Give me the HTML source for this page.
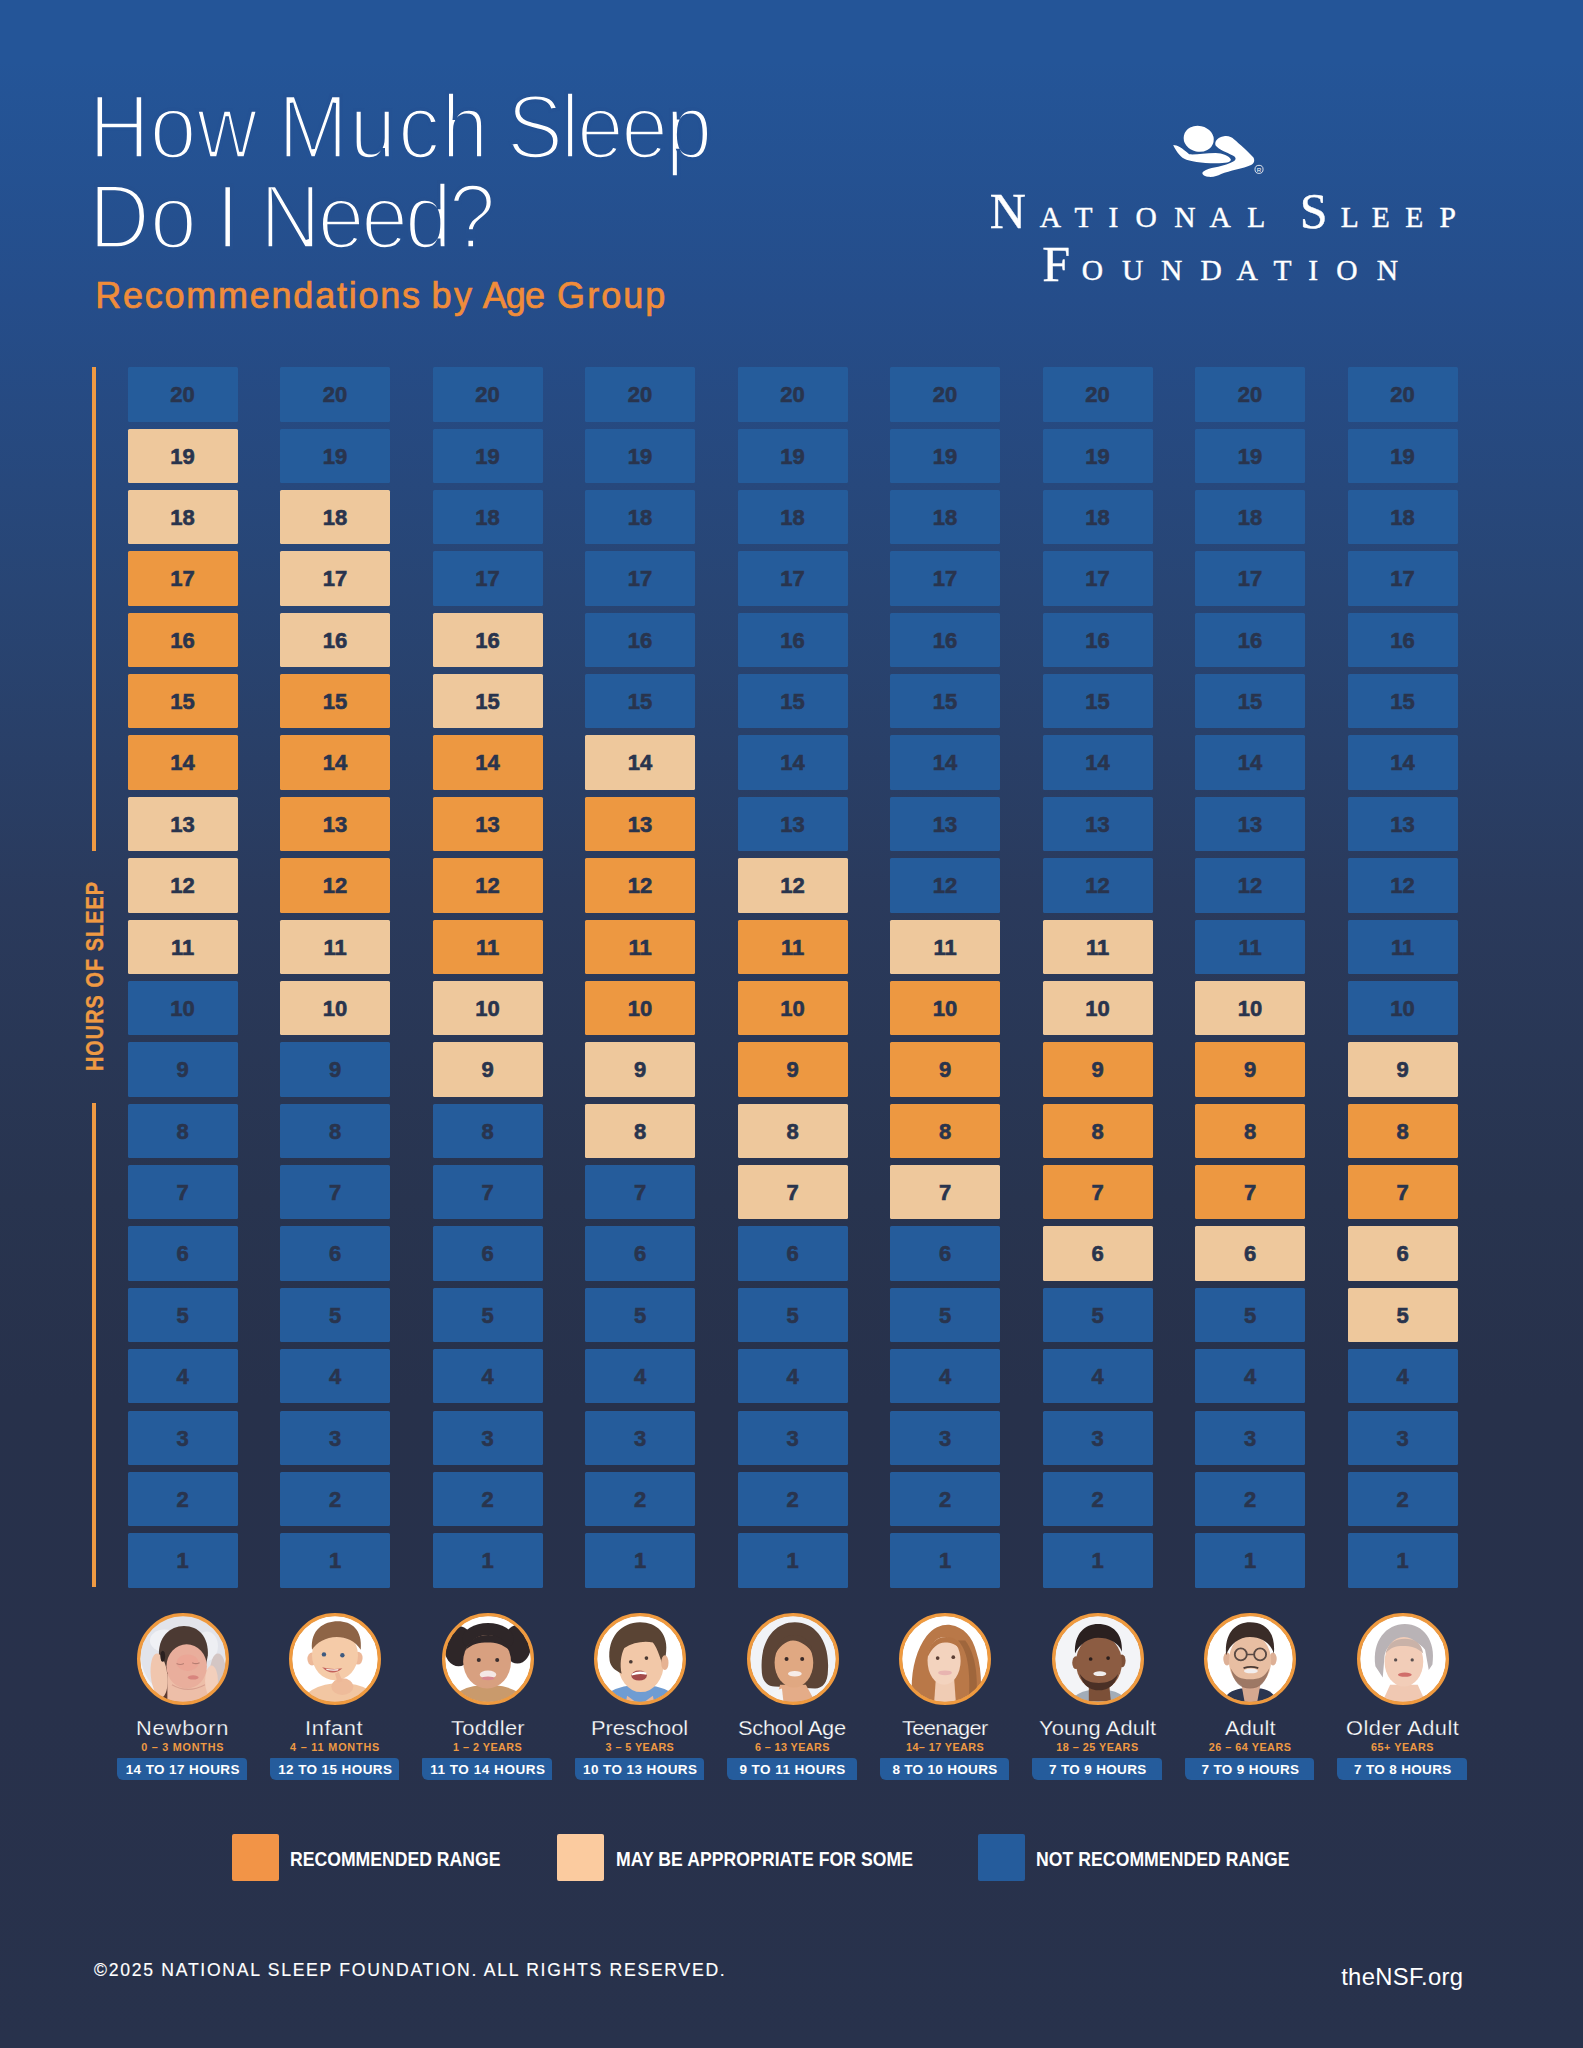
<!DOCTYPE html><html><head><meta charset="utf-8"><title>How Much Sleep Do I Need?</title><style>
html,body{margin:0;padding:0;}
body{width:1583px;height:2048px;overflow:hidden;background:#28324C;}
#page{position:relative;width:1583px;height:2048px;overflow:hidden;
 background:linear-gradient(to bottom,#245598 0px,#245598 60px,#254D8A 300px,#284574 590px,#2A3A5C 900px,#28344F 1200px,#27314B 1400px,#28314B 1700px,#28324C 2048px);
 font-family:"Liberation Sans",sans-serif;}
.tw{position:absolute;color:#fff;font-size:90.4px;line-height:90.4px;white-space:nowrap;transform:scaleX(0.93);transform-origin:0 0;}
.sub{position:absolute;color:#F08C3A;font-size:36px;line-height:36px;white-space:nowrap;-webkit-text-stroke:0.7px #F08C3A;}
.lg1{position:absolute;color:#fff;font-family:"Liberation Serif",serif;white-space:nowrap;text-align:center;width:60px;-webkit-text-stroke:0.4px #fff;}
.big{font-size:50px;line-height:50px;}
.sm{font-size:29.5px;line-height:29.5px;}
.axis{position:absolute;left:92.2px;width:3.7px;background:#EF9A43;}
.a1{top:366.8px;height:484px;}
.a2{top:1103px;height:484.3px;}
.axlabel{position:absolute;height:24px;color:#EF9A43;font-weight:bold;font-size:23px;line-height:24px;text-align:center;white-space:nowrap;-webkit-text-stroke:0.4px #EF9A43;transform:rotate(-90deg) scaleX(0.86);transform-origin:50% 50%;}
.c{position:absolute;width:110.1px;height:54.4px;border-radius:1.5px;text-align:center;line-height:56.2px;font-weight:bold;font-size:22px;color:#29344D;-webkit-text-stroke:0.6px #29344D;}
.b{background:#255C9B;}
.p{background:#EEC89C;}
.o{background:#ED9841;}
.ph{position:absolute;top:1613.3px;width:92px;height:92px;}
.ph svg{display:block;}
.nm{position:absolute;color:#fff;font-size:19.5px;line-height:20px;white-space:nowrap;transform:scaleX(1.12);transform-origin:0 0;-webkit-text-stroke:0.25px #28334E;}
.ag{position:absolute;color:#EF9A43;font-size:10.8px;font-weight:bold;line-height:12px;white-space:nowrap;}
.pill{position:absolute;top:1758.2px;width:129.5px;height:21.9px;background:#255C9C;border-radius:1px 4px 0 6px;}
.pt{position:absolute;color:#fff;font-weight:bold;font-size:13.5px;line-height:14px;white-space:nowrap;}
.lg{position:absolute;top:1834px;width:47.4px;height:47.2px;border-radius:2px;}
.lt{position:absolute;color:#fff;font-weight:bold;font-size:20px;line-height:20px;white-space:nowrap;transform:scaleX(0.88);transform-origin:0 0;}
.ft{position:absolute;color:#fff;font-size:17.6px;line-height:20px;white-space:nowrap;-webkit-text-stroke:0.15px #fff;}
.url{position:absolute;color:#fff;font-size:23.8px;line-height:24px;white-space:nowrap;}

</style></head><body><div id="page">
<div class="tw" style="left:88.6px;top:82px;letter-spacing:0.16px;-webkit-text-stroke:3.6px #245294">How</div>
<div class="tw" style="left:278.0px;top:82px;letter-spacing:1.72px;-webkit-text-stroke:3.6px #245294">Much</div>
<div class="tw" style="left:507.4px;top:82px;letter-spacing:-2.61px;-webkit-text-stroke:3.6px #245294">Sleep</div>
<div class="tw" style="left:88.6px;top:172px;letter-spacing:0.32px;-webkit-text-stroke:3.6px #25508F">Do</div>
<div class="tw" style="left:215.6px;top:172px;letter-spacing:0px;-webkit-text-stroke:3.6px #25508F">I</div>
<div class="tw" style="left:260.2px;top:172px;letter-spacing:-3.28px;-webkit-text-stroke:3.6px #25508F">Need?</div>
<svg style="position:absolute;left:1160px;top:115px" width="110" height="70" viewBox="0 0 1583 1007"><g fill="#fff">
<ellipse cx="557" cy="342" rx="218" ry="186" transform="rotate(12 557 342)"/>
<path d="M190,430 C250,430 320,470 420,565 C520,575 640,545 800,545 C900,545 1000,590 1020,640 C1020,680 950,695 800,695 C600,695 420,665 350,630 C280,590 220,500 190,430 Z"/>
<path d="M800,440 C780,380 830,320 920,305 C990,295 1030,320 1060,345 C1150,420 1280,540 1345,610 C1370,660 1350,700 1310,720 C1200,770 1000,800 880,850 C820,880 780,895 690,890 C630,880 590,840 620,815 C660,785 720,760 800,750 C900,730 1020,700 1080,650 C1100,620 1080,600 1040,580 C960,540 850,500 800,440 Z"/>
</g><circle cx="1425" cy="782" r="58" fill="none" stroke="#fff" stroke-width="12"/><text x="1425" y="815" font-size="90" text-anchor="middle" fill="#fff" font-family="Liberation Sans">R</text></svg>
<div class="lg1 big" style="left:977.9px;top:185.7px">N</div>
<div class="lg1 sm" style="left:1020.3px;top:202.9px">A</div>
<div class="lg1 sm" style="left:1053.5px;top:202.9px">T</div>
<div class="lg1 sm" style="left:1083.5px;top:202.9px">I</div>
<div class="lg1 sm" style="left:1116.1px;top:202.9px">O</div>
<div class="lg1 sm" style="left:1154.8px;top:202.9px">N</div>
<div class="lg1 sm" style="left:1190.2px;top:202.9px">A</div>
<div class="lg1 sm" style="left:1226.3px;top:202.9px">L</div>
<div class="lg1 big" style="left:1283.7px;top:185.7px">S</div>
<div class="lg1 sm" style="left:1319.8px;top:202.9px">L</div>
<div class="lg1 sm" style="left:1350.8px;top:202.9px">E</div>
<div class="lg1 sm" style="left:1384.2px;top:202.9px">E</div>
<div class="lg1 sm" style="left:1417.6px;top:202.9px">P</div>
<div class="lg1 big" style="left:1026.2px;top:238.9px">F</div>
<div class="lg1 sm" style="left:1062.4px;top:256.1px">O</div>
<div class="lg1 sm" style="left:1102.6px;top:256.1px">U</div>
<div class="lg1 sm" style="left:1141.6px;top:256.1px">N</div>
<div class="lg1 sm" style="left:1181.2px;top:256.1px">D</div>
<div class="lg1 sm" style="left:1217.2px;top:256.1px">A</div>
<div class="lg1 sm" style="left:1252.6px;top:256.1px">T</div>
<div class="lg1 sm" style="left:1283.2px;top:256.1px">I</div>
<div class="lg1 sm" style="left:1316.8px;top:256.1px">O</div>
<div class="lg1 sm" style="left:1357.3px;top:256.1px">N</div>
<div class="sub" style="left:95.3px;top:278.3px;letter-spacing:1.75px">Recommendations</div>
<div class="sub" style="left:431.6px;top:278.3px;letter-spacing:2.3px">by</div>
<div class="sub" style="left:482.7px;top:278.3px;letter-spacing:-0.9px">Age</div>
<div class="sub" style="left:557.1px;top:278.3px;letter-spacing:2.05px">Group</div>
<div class="axis a1"></div><div class="axis a2"></div>
<div class="axlabel" style="left:-54.9px;top:964.4px;width:300px;letter-spacing:1.27px">HOURS OF SLEEP</div>
<div class="c b" style="left:127.5px;top:367.2px">20</div>
<div class="c p" style="left:127.5px;top:428.6px">19</div>
<div class="c p" style="left:127.5px;top:489.9px">18</div>
<div class="c o" style="left:127.5px;top:551.3px">17</div>
<div class="c o" style="left:127.5px;top:612.7px">16</div>
<div class="c o" style="left:127.5px;top:674.0px">15</div>
<div class="c o" style="left:127.5px;top:735.4px">14</div>
<div class="c p" style="left:127.5px;top:796.8px">13</div>
<div class="c p" style="left:127.5px;top:858.2px">12</div>
<div class="c p" style="left:127.5px;top:919.5px">11</div>
<div class="c b" style="left:127.5px;top:980.9px">10</div>
<div class="c b" style="left:127.5px;top:1042.3px">9</div>
<div class="c b" style="left:127.5px;top:1103.6px">8</div>
<div class="c b" style="left:127.5px;top:1165.0px">7</div>
<div class="c b" style="left:127.5px;top:1226.4px">6</div>
<div class="c b" style="left:127.5px;top:1287.8px">5</div>
<div class="c b" style="left:127.5px;top:1349.1px">4</div>
<div class="c b" style="left:127.5px;top:1410.5px">3</div>
<div class="c b" style="left:127.5px;top:1471.9px">2</div>
<div class="c b" style="left:127.5px;top:1533.2px">1</div>
<div class="ph" style="left:136.6px"><svg width="92" height="92" viewBox="0 0 100 100"><defs><clipPath id="cp0"><circle cx="50" cy="50" r="47"/></clipPath></defs><g clip-path="url(#cp0)"><rect width="100" height="100" fill="#F2F3F6"/>
<ellipse cx="50" cy="46" rx="46" ry="46" fill="#E2E4EB"/>
<ellipse cx="30" cy="30" rx="16" ry="12" fill="#F0F1F5"/>
<ellipse cx="76" cy="36" rx="12" ry="16" fill="#EEEFF3"/>
<ellipse cx="88" cy="66" rx="9" ry="22" fill="#D4C6C4"/>
<path d="M24,48 C22,26 36,14 51,14 C67,14 78,26 77,46 L74,62 L30,64 Z" fill="#4C3A33"/>
<path d="M27,60 L35,58 L36,100 L28,100 Z" fill="#5C3A30"/>
<path d="M33,100 L33,66 L78,62 L80,100 Z" fill="#EDBEA8"/>
<ellipse cx="54" cy="58" rx="22" ry="24" fill="#E9AE9C"/>
<ellipse cx="55" cy="54" rx="12" ry="9" fill="#EBA394" opacity="0.7"/>
<path d="M38,78 Q55,88 74,78" stroke="#D8A090" stroke-width="1.2" fill="none"/>
<ellipse cx="24" cy="68" rx="9" ry="24" fill="#F0C6AE" transform="rotate(-6 24 68)"/>
<ellipse cx="28" cy="47" rx="2.6" ry="6" fill="#2A2020"/>
<ellipse cx="81" cy="74" rx="7" ry="17" fill="#F3CFBC"/>
<path d="M43,55 Q47,57 51,55 M60,54 Q64,56 68,54" stroke="#B77E72" stroke-width="1.2" fill="none"/>
<ellipse cx="61" cy="70" rx="6" ry="2.3" fill="#D8857E"/>
</g><circle cx="50" cy="50" r="48.2" fill="none" stroke="#EF9A3F" stroke-width="3.6"/></svg></div>
<div class="nm" style="left:136.0px;top:1718.0px;letter-spacing:0.76px">Newborn</div>
<div class="ag" style="left:141.3px;top:1741.4px;letter-spacing:0.76px">0 – 3 MONTHS</div>
<div class="pill" style="left:117.2px"></div>
<div class="pt" style="left:125.7px;top:1762.5px;letter-spacing:0.4px">14 TO 17 HOURS</div>
<div class="c b" style="left:280.0px;top:367.2px">20</div>
<div class="c b" style="left:280.0px;top:428.6px">19</div>
<div class="c p" style="left:280.0px;top:489.9px">18</div>
<div class="c p" style="left:280.0px;top:551.3px">17</div>
<div class="c p" style="left:280.0px;top:612.7px">16</div>
<div class="c o" style="left:280.0px;top:674.0px">15</div>
<div class="c o" style="left:280.0px;top:735.4px">14</div>
<div class="c o" style="left:280.0px;top:796.8px">13</div>
<div class="c o" style="left:280.0px;top:858.2px">12</div>
<div class="c p" style="left:280.0px;top:919.5px">11</div>
<div class="c p" style="left:280.0px;top:980.9px">10</div>
<div class="c b" style="left:280.0px;top:1042.3px">9</div>
<div class="c b" style="left:280.0px;top:1103.6px">8</div>
<div class="c b" style="left:280.0px;top:1165.0px">7</div>
<div class="c b" style="left:280.0px;top:1226.4px">6</div>
<div class="c b" style="left:280.0px;top:1287.8px">5</div>
<div class="c b" style="left:280.0px;top:1349.1px">4</div>
<div class="c b" style="left:280.0px;top:1410.5px">3</div>
<div class="c b" style="left:280.0px;top:1471.9px">2</div>
<div class="c b" style="left:280.0px;top:1533.2px">1</div>
<div class="ph" style="left:289.1px"><svg width="92" height="92" viewBox="0 0 100 100"><defs><clipPath id="cp1"><circle cx="50" cy="50" r="47"/></clipPath></defs><g clip-path="url(#cp1)"><rect width="100" height="100" fill="#FFFFFF"/>
<ellipse cx="56" cy="102" rx="44" ry="26" fill="#F2C6A2"/>
<ellipse cx="25" cy="50" rx="5" ry="7" fill="#EDB898"/>
<ellipse cx="75" cy="49" rx="5" ry="7" fill="#EDB898"/>
<ellipse cx="50" cy="46" rx="25" ry="27" fill="#F5CBA8"/>
<path d="M25,40 C23,18 38,9 53,9 C68,9 80,18 78,40 C72,30 62,26 52,26 C40,26 30,32 25,40 Z" fill="#8E6446"/>
<circle cx="38" cy="45" r="2.4" fill="#3E5A80"/>
<circle cx="58" cy="46" r="2.4" fill="#3E5A80"/>
<path d="M36,59 Q47,70 58,60 Q47,62 36,59 Z" fill="#C4625C"/><path d="M40,60.5 Q47,62 54,61 L53,62.5 Q47,63.5 41,62 Z" fill="#F6EEEA"/>
<ellipse cx="58" cy="80" rx="12" ry="9" fill="#EEBB9A"/><path d="M50,66 L54,64 L58,74 L53,76 Z" fill="#EDB898"/>
</g><circle cx="50" cy="50" r="48.2" fill="none" stroke="#EF9A3F" stroke-width="3.6"/></svg></div>
<div class="nm" style="left:305.1px;top:1718.0px;letter-spacing:0.52px">Infant</div>
<div class="ag" style="left:290.0px;top:1741.4px;letter-spacing:0.84px">4 – 11 MONTHS</div>
<div class="pill" style="left:269.7px"></div>
<div class="pt" style="left:278.2px;top:1762.5px;letter-spacing:0.4px">12 TO 15 HOURS</div>
<div class="c b" style="left:432.5px;top:367.2px">20</div>
<div class="c b" style="left:432.5px;top:428.6px">19</div>
<div class="c b" style="left:432.5px;top:489.9px">18</div>
<div class="c b" style="left:432.5px;top:551.3px">17</div>
<div class="c p" style="left:432.5px;top:612.7px">16</div>
<div class="c p" style="left:432.5px;top:674.0px">15</div>
<div class="c o" style="left:432.5px;top:735.4px">14</div>
<div class="c o" style="left:432.5px;top:796.8px">13</div>
<div class="c o" style="left:432.5px;top:858.2px">12</div>
<div class="c o" style="left:432.5px;top:919.5px">11</div>
<div class="c p" style="left:432.5px;top:980.9px">10</div>
<div class="c p" style="left:432.5px;top:1042.3px">9</div>
<div class="c b" style="left:432.5px;top:1103.6px">8</div>
<div class="c b" style="left:432.5px;top:1165.0px">7</div>
<div class="c b" style="left:432.5px;top:1226.4px">6</div>
<div class="c b" style="left:432.5px;top:1287.8px">5</div>
<div class="c b" style="left:432.5px;top:1349.1px">4</div>
<div class="c b" style="left:432.5px;top:1410.5px">3</div>
<div class="c b" style="left:432.5px;top:1471.9px">2</div>
<div class="c b" style="left:432.5px;top:1533.2px">1</div>
<div class="ph" style="left:441.6px"><svg width="92" height="92" viewBox="0 0 100 100"><defs><clipPath id="cp2"><circle cx="50" cy="50" r="47"/></clipPath></defs><g clip-path="url(#cp2)"><rect width="100" height="100" fill="#FFFFFF"/>
<ellipse cx="18" cy="36" rx="16" ry="22" fill="#2E2628"/>
<ellipse cx="82" cy="34" rx="15" ry="21" fill="#2E2628"/>
<ellipse cx="50" cy="28" rx="28" ry="17" fill="#2E2628"/>
<ellipse cx="50" cy="100" rx="42" ry="22" fill="#C99A6C"/>
<ellipse cx="49" cy="53" rx="26" ry="29" fill="#D8A080"/>
<path d="M26,40 C30,28 40,24 50,24 C62,24 70,30 73,40 C66,34 58,32 50,32 C40,32 32,34 26,40 Z" fill="#2E2628"/>
<circle cx="40" cy="51" r="2.2" fill="#3A2E2E"/>
<circle cx="60" cy="51" r="2.2" fill="#3A2E2E"/>
<ellipse cx="50" cy="67" rx="9" ry="4.5" fill="#F4E8E6"/>
<ellipse cx="50" cy="71" rx="7" ry="2" fill="#D88890"/>
</g><circle cx="50" cy="50" r="48.2" fill="none" stroke="#EF9A3F" stroke-width="3.6"/></svg></div>
<div class="nm" style="left:450.7px;top:1718.0px;letter-spacing:0.3px">Toddler</div>
<div class="ag" style="left:453.0px;top:1741.4px;letter-spacing:0.48px">1 – 2 YEARS</div>
<div class="pill" style="left:422.2px"></div>
<div class="pt" style="left:430.2px;top:1762.5px;letter-spacing:0.54px">11 TO 14 HOURS</div>
<div class="c b" style="left:585.0px;top:367.2px">20</div>
<div class="c b" style="left:585.0px;top:428.6px">19</div>
<div class="c b" style="left:585.0px;top:489.9px">18</div>
<div class="c b" style="left:585.0px;top:551.3px">17</div>
<div class="c b" style="left:585.0px;top:612.7px">16</div>
<div class="c b" style="left:585.0px;top:674.0px">15</div>
<div class="c p" style="left:585.0px;top:735.4px">14</div>
<div class="c o" style="left:585.0px;top:796.8px">13</div>
<div class="c o" style="left:585.0px;top:858.2px">12</div>
<div class="c o" style="left:585.0px;top:919.5px">11</div>
<div class="c o" style="left:585.0px;top:980.9px">10</div>
<div class="c p" style="left:585.0px;top:1042.3px">9</div>
<div class="c p" style="left:585.0px;top:1103.6px">8</div>
<div class="c b" style="left:585.0px;top:1165.0px">7</div>
<div class="c b" style="left:585.0px;top:1226.4px">6</div>
<div class="c b" style="left:585.0px;top:1287.8px">5</div>
<div class="c b" style="left:585.0px;top:1349.1px">4</div>
<div class="c b" style="left:585.0px;top:1410.5px">3</div>
<div class="c b" style="left:585.0px;top:1471.9px">2</div>
<div class="c b" style="left:585.0px;top:1533.2px">1</div>
<div class="ph" style="left:594.0px"><svg width="92" height="92" viewBox="0 0 100 100"><defs><clipPath id="cp3"><circle cx="50" cy="50" r="47"/></clipPath></defs><g clip-path="url(#cp3)"><rect width="100" height="100" fill="#FFFFFF"/>
<ellipse cx="50" cy="104" rx="46" ry="26" fill="#6F9CD2"/>
<path d="M36,90 L50,100 L64,90 L66,100 L34,100 Z" fill="#EBB898"/>
<ellipse cx="51" cy="54" rx="25" ry="32" fill="#F2C8A8"/>
<path d="M17,52 C14,26 30,10 50,10 C68,10 82,22 78,46 L76,60 C72,50 70,40 64,32 C54,30 42,32 33,38 C29,46 28,56 30,66 C22,62 18,58 17,52 Z" fill="#5A4434"/>
<ellipse cx="77" cy="54" rx="4" ry="8" fill="#E6B292"/>
<circle cx="40" cy="53" r="2" fill="#4A3A34"/>
<circle cx="57" cy="49" r="2" fill="#4A3A34"/>
<ellipse cx="49" cy="68" rx="8.5" ry="5.5" fill="#A34A4A"/>
<path d="M41,66 Q49,62 57,65 L57,67 Q49,65 41,68 Z" fill="#FFFFFF"/>
</g><circle cx="50" cy="50" r="48.2" fill="none" stroke="#EF9A3F" stroke-width="3.6"/></svg></div>
<div class="nm" style="left:590.9px;top:1718.0px;letter-spacing:0.01px">Preschool</div>
<div class="ag" style="left:605.6px;top:1741.4px;letter-spacing:0.42px">3 – 5 YEARS</div>
<div class="pill" style="left:574.7px"></div>
<div class="pt" style="left:583.0px;top:1762.5px;letter-spacing:0.42px">10 TO 13 HOURS</div>
<div class="c b" style="left:737.5px;top:367.2px">20</div>
<div class="c b" style="left:737.5px;top:428.6px">19</div>
<div class="c b" style="left:737.5px;top:489.9px">18</div>
<div class="c b" style="left:737.5px;top:551.3px">17</div>
<div class="c b" style="left:737.5px;top:612.7px">16</div>
<div class="c b" style="left:737.5px;top:674.0px">15</div>
<div class="c b" style="left:737.5px;top:735.4px">14</div>
<div class="c b" style="left:737.5px;top:796.8px">13</div>
<div class="c p" style="left:737.5px;top:858.2px">12</div>
<div class="c o" style="left:737.5px;top:919.5px">11</div>
<div class="c o" style="left:737.5px;top:980.9px">10</div>
<div class="c o" style="left:737.5px;top:1042.3px">9</div>
<div class="c p" style="left:737.5px;top:1103.6px">8</div>
<div class="c p" style="left:737.5px;top:1165.0px">7</div>
<div class="c b" style="left:737.5px;top:1226.4px">6</div>
<div class="c b" style="left:737.5px;top:1287.8px">5</div>
<div class="c b" style="left:737.5px;top:1349.1px">4</div>
<div class="c b" style="left:737.5px;top:1410.5px">3</div>
<div class="c b" style="left:737.5px;top:1471.9px">2</div>
<div class="c b" style="left:737.5px;top:1533.2px">1</div>
<div class="ph" style="left:746.5px"><svg width="92" height="92" viewBox="0 0 100 100"><defs><clipPath id="cp4"><circle cx="50" cy="50" r="47"/></clipPath></defs><g clip-path="url(#cp4)"><rect width="100" height="100" fill="#F1F3F7"/>
<path d="M16,62 C14,30 30,10 52,10 C74,10 90,30 88,62 C88,76 82,82 74,82 L30,80 C22,80 16,74 16,62 Z" fill="#5C4436"/>
<path d="M30,100 L36,78 L64,78 L76,100 Z" fill="#E4AC88"/>
<path d="M22,100 C24,88 30,84 38,82 L40,100 Z" fill="#F4F4F6"/>
<ellipse cx="51" cy="54" rx="21" ry="27" fill="#E0A882"/>
<path d="M30,46 C32,32 40,24 52,24 C62,24 70,32 72,44 C66,36 58,30 50,30 C42,30 34,38 30,46 Z" fill="#5C4436"/>
<circle cx="43" cy="50" r="2.2" fill="#3A2A28"/>
<circle cx="60" cy="50" r="2.2" fill="#3A2A28"/>
<ellipse cx="52" cy="66" rx="7.5" ry="3" fill="#F6ECE8"/>
</g><circle cx="50" cy="50" r="48.2" fill="none" stroke="#EF9A3F" stroke-width="3.6"/></svg></div>
<div class="nm" style="left:738.0px;top:1718.0px;letter-spacing:-0.24px">School Age</div>
<div class="ag" style="left:755.0px;top:1741.4px;letter-spacing:0.4px">6 – 13 YEARS</div>
<div class="pill" style="left:727.2px"></div>
<div class="pt" style="left:739.4px;top:1762.5px;letter-spacing:0.46px">9 TO 11 HOURS</div>
<div class="c b" style="left:890.0px;top:367.2px">20</div>
<div class="c b" style="left:890.0px;top:428.6px">19</div>
<div class="c b" style="left:890.0px;top:489.9px">18</div>
<div class="c b" style="left:890.0px;top:551.3px">17</div>
<div class="c b" style="left:890.0px;top:612.7px">16</div>
<div class="c b" style="left:890.0px;top:674.0px">15</div>
<div class="c b" style="left:890.0px;top:735.4px">14</div>
<div class="c b" style="left:890.0px;top:796.8px">13</div>
<div class="c b" style="left:890.0px;top:858.2px">12</div>
<div class="c p" style="left:890.0px;top:919.5px">11</div>
<div class="c o" style="left:890.0px;top:980.9px">10</div>
<div class="c o" style="left:890.0px;top:1042.3px">9</div>
<div class="c o" style="left:890.0px;top:1103.6px">8</div>
<div class="c p" style="left:890.0px;top:1165.0px">7</div>
<div class="c b" style="left:890.0px;top:1226.4px">6</div>
<div class="c b" style="left:890.0px;top:1287.8px">5</div>
<div class="c b" style="left:890.0px;top:1349.1px">4</div>
<div class="c b" style="left:890.0px;top:1410.5px">3</div>
<div class="c b" style="left:890.0px;top:1471.9px">2</div>
<div class="c b" style="left:890.0px;top:1533.2px">1</div>
<div class="ph" style="left:899.0px"><svg width="92" height="92" viewBox="0 0 100 100"><defs><clipPath id="cp5"><circle cx="50" cy="50" r="47"/></clipPath></defs><g clip-path="url(#cp5)"><rect width="100" height="100" fill="#FFFFFF"/>
<path d="M15,100 C11,70 17,42 30,25 C38,15 48,12 56,13 C70,15 80,26 84,42 C90,60 90,82 88,100 Z" fill="#B97848"/><path d="M64,30 C74,40 78,60 76,96 L84,96 C86,70 84,46 72,30 Z" fill="#8E5A36" opacity="0.6"/>
<path d="M40,72 L60,72 L62,100 L38,100 Z" fill="#F0CCB4"/>
<ellipse cx="49" cy="52" rx="18" ry="26" fill="#F3D3BE"/>
<path d="M31,48 C32,34 40,26 52,26 C60,26 66,30 68,40 C62,34 56,32 50,32 C42,32 36,38 31,48 Z" fill="#B67545"/>
<circle cx="42" cy="49" r="2" fill="#5A3E34"/>
<circle cx="59" cy="48" r="2" fill="#5A3E34"/>
<ellipse cx="50" cy="65" rx="7.5" ry="2.6" fill="#E8B4B0"/>
</g><circle cx="50" cy="50" r="48.2" fill="none" stroke="#EF9A3F" stroke-width="3.6"/></svg></div>
<div class="nm" style="left:902.2px;top:1718.0px;letter-spacing:-0.61px">Teenager</div>
<div class="ag" style="left:906.0px;top:1741.4px;letter-spacing:0.43px">14– 17 YEARS</div>
<div class="pill" style="left:879.7px"></div>
<div class="pt" style="left:892.4px;top:1762.5px;letter-spacing:0.32px">8 TO 10 HOURS</div>
<div class="c b" style="left:1042.5px;top:367.2px">20</div>
<div class="c b" style="left:1042.5px;top:428.6px">19</div>
<div class="c b" style="left:1042.5px;top:489.9px">18</div>
<div class="c b" style="left:1042.5px;top:551.3px">17</div>
<div class="c b" style="left:1042.5px;top:612.7px">16</div>
<div class="c b" style="left:1042.5px;top:674.0px">15</div>
<div class="c b" style="left:1042.5px;top:735.4px">14</div>
<div class="c b" style="left:1042.5px;top:796.8px">13</div>
<div class="c b" style="left:1042.5px;top:858.2px">12</div>
<div class="c p" style="left:1042.5px;top:919.5px">11</div>
<div class="c p" style="left:1042.5px;top:980.9px">10</div>
<div class="c o" style="left:1042.5px;top:1042.3px">9</div>
<div class="c o" style="left:1042.5px;top:1103.6px">8</div>
<div class="c o" style="left:1042.5px;top:1165.0px">7</div>
<div class="c p" style="left:1042.5px;top:1226.4px">6</div>
<div class="c b" style="left:1042.5px;top:1287.8px">5</div>
<div class="c b" style="left:1042.5px;top:1349.1px">4</div>
<div class="c b" style="left:1042.5px;top:1410.5px">3</div>
<div class="c b" style="left:1042.5px;top:1471.9px">2</div>
<div class="c b" style="left:1042.5px;top:1533.2px">1</div>
<div class="ph" style="left:1051.5px"><svg width="92" height="92" viewBox="0 0 100 100"><defs><clipPath id="cp6"><circle cx="50" cy="50" r="47"/></clipPath></defs><g clip-path="url(#cp6)"><rect width="100" height="100" fill="#F3F4F7"/>
<path d="M20,100 C22,90 30,86 40,84 L62,84 C72,86 80,90 82,100 Z" fill="#A2ACB8"/>
<path d="M40,76 L62,76 L64,96 L40,96 Z" fill="#7C5038"/>
<ellipse cx="26" cy="54" rx="4" ry="7" fill="#8A5A40"/>
<ellipse cx="76" cy="52" rx="4" ry="7" fill="#7E5038"/>
<ellipse cx="51" cy="54" rx="25" ry="30" fill="#8C5C42"/>
<path d="M30,66 C34,80 42,84 51,84 C60,84 68,80 72,66 C66,74 60,76 51,76 C42,76 36,74 30,66 Z" fill="#4A3026"/>
<path d="M25,44 C24,22 36,12 50,12 C66,12 77,22 76,42 C72,32 62,27 50,27 C40,27 30,34 25,44 Z" fill="#2A2020"/>
<circle cx="42" cy="50" r="2" fill="#2A1E1C"/>
<circle cx="61" cy="49" r="2" fill="#2A1E1C"/>
<ellipse cx="52" cy="66" rx="7" ry="2.6" fill="#F0EEEE"/>
</g><circle cx="50" cy="50" r="48.2" fill="none" stroke="#EF9A3F" stroke-width="3.6"/></svg></div>
<div class="nm" style="left:1038.6px;top:1718.0px;letter-spacing:0.11px">Young Adult</div>
<div class="ag" style="left:1056.2px;top:1741.4px;letter-spacing:0.49px">18 – 25 YEARS</div>
<div class="pill" style="left:1032.2px"></div>
<div class="pt" style="left:1049.0px;top:1762.5px;letter-spacing:0.34px">7 TO 9 HOURS</div>
<div class="c b" style="left:1195.0px;top:367.2px">20</div>
<div class="c b" style="left:1195.0px;top:428.6px">19</div>
<div class="c b" style="left:1195.0px;top:489.9px">18</div>
<div class="c b" style="left:1195.0px;top:551.3px">17</div>
<div class="c b" style="left:1195.0px;top:612.7px">16</div>
<div class="c b" style="left:1195.0px;top:674.0px">15</div>
<div class="c b" style="left:1195.0px;top:735.4px">14</div>
<div class="c b" style="left:1195.0px;top:796.8px">13</div>
<div class="c b" style="left:1195.0px;top:858.2px">12</div>
<div class="c b" style="left:1195.0px;top:919.5px">11</div>
<div class="c p" style="left:1195.0px;top:980.9px">10</div>
<div class="c o" style="left:1195.0px;top:1042.3px">9</div>
<div class="c o" style="left:1195.0px;top:1103.6px">8</div>
<div class="c o" style="left:1195.0px;top:1165.0px">7</div>
<div class="c p" style="left:1195.0px;top:1226.4px">6</div>
<div class="c b" style="left:1195.0px;top:1287.8px">5</div>
<div class="c b" style="left:1195.0px;top:1349.1px">4</div>
<div class="c b" style="left:1195.0px;top:1410.5px">3</div>
<div class="c b" style="left:1195.0px;top:1471.9px">2</div>
<div class="c b" style="left:1195.0px;top:1533.2px">1</div>
<div class="ph" style="left:1204.0px"><svg width="92" height="92" viewBox="0 0 100 100"><defs><clipPath id="cp7"><circle cx="50" cy="50" r="47"/></clipPath></defs><g clip-path="url(#cp7)"><rect width="100" height="100" fill="#FFFFFF"/>
<path d="M20,100 C22,88 30,84 40,82 L62,82 C72,84 78,88 80,100 Z" fill="#2C3650"/>
<path d="M40,74 L62,74 L58,96 L50,100 L44,96 Z" fill="#D6A890"/>
<ellipse cx="25" cy="50" rx="4" ry="7" fill="#DDB096"/>
<ellipse cx="75" cy="50" rx="4" ry="7" fill="#DDB096"/>
<ellipse cx="50" cy="52" rx="23" ry="29" fill="#E8BEA2"/>
<path d="M29,60 C32,76 40,82 50,82 C60,82 68,76 71,60 C66,70 60,72 50,72 C40,72 34,70 29,60 Z" fill="#8A6656" opacity="0.8"/>
<path d="M24,46 C22,22 34,10 50,10 C66,10 78,20 76,44 C72,32 62,26 50,26 C38,26 28,34 24,46 Z" fill="#3A2C28"/>
<circle cx="40" cy="45" r="6.5" fill="none" stroke="#5A4A44" stroke-width="2"/>
<circle cx="61" cy="45" r="6.5" fill="none" stroke="#5A4A44" stroke-width="2"/>
<path d="M46.5,45 L54.5,45" stroke="#5A4A44" stroke-width="1.6"/>
<ellipse cx="51" cy="63" rx="7.5" ry="2.6" fill="#F2EEEE"/>
<path d="M43,60 Q51,57 59,60" stroke="#4A3A34" stroke-width="2" fill="none"/>
</g><circle cx="50" cy="50" r="48.2" fill="none" stroke="#EF9A3F" stroke-width="3.6"/></svg></div>
<div class="nm" style="left:1224.6px;top:1718.0px;letter-spacing:0.18px">Adult</div>
<div class="ag" style="left:1208.7px;top:1741.4px;letter-spacing:0.52px">26 – 64 YEARS</div>
<div class="pill" style="left:1184.7px"></div>
<div class="pt" style="left:1201.5px;top:1762.5px;letter-spacing:0.37px">7 TO 9 HOURS</div>
<div class="c b" style="left:1347.5px;top:367.2px">20</div>
<div class="c b" style="left:1347.5px;top:428.6px">19</div>
<div class="c b" style="left:1347.5px;top:489.9px">18</div>
<div class="c b" style="left:1347.5px;top:551.3px">17</div>
<div class="c b" style="left:1347.5px;top:612.7px">16</div>
<div class="c b" style="left:1347.5px;top:674.0px">15</div>
<div class="c b" style="left:1347.5px;top:735.4px">14</div>
<div class="c b" style="left:1347.5px;top:796.8px">13</div>
<div class="c b" style="left:1347.5px;top:858.2px">12</div>
<div class="c b" style="left:1347.5px;top:919.5px">11</div>
<div class="c b" style="left:1347.5px;top:980.9px">10</div>
<div class="c p" style="left:1347.5px;top:1042.3px">9</div>
<div class="c o" style="left:1347.5px;top:1103.6px">8</div>
<div class="c o" style="left:1347.5px;top:1165.0px">7</div>
<div class="c p" style="left:1347.5px;top:1226.4px">6</div>
<div class="c p" style="left:1347.5px;top:1287.8px">5</div>
<div class="c b" style="left:1347.5px;top:1349.1px">4</div>
<div class="c b" style="left:1347.5px;top:1410.5px">3</div>
<div class="c b" style="left:1347.5px;top:1471.9px">2</div>
<div class="c b" style="left:1347.5px;top:1533.2px">1</div>
<div class="ph" style="left:1356.5px"><svg width="92" height="92" viewBox="0 0 100 100"><defs><clipPath id="cp8"><circle cx="50" cy="50" r="47"/></clipPath></defs><g clip-path="url(#cp8)"><rect width="100" height="100" fill="#FFFFFF"/>
<path d="M26,100 L36,78 L66,78 L76,100 Z" fill="#F0C8B2"/>
<path d="M20,58 C16,30 32,12 52,12 C72,12 86,30 82,56 L78,62 L74,40 C68,32 60,30 50,30 C40,30 32,36 30,46 L28,70 Z" fill="#B9B3B6"/>
<ellipse cx="51" cy="53" rx="21" ry="27" fill="#F2CDB8"/>
<path d="M31,44 C34,32 42,28 52,28 C62,28 70,32 72,44 C66,38 58,36 50,36 C42,36 36,38 31,44 Z" fill="#C9B2A8"/>
<circle cx="42" cy="51" r="1.8" fill="#5A5050"/>
<circle cx="60" cy="51" r="1.8" fill="#5A5050"/>
<ellipse cx="52" cy="67" rx="7.5" ry="2.3" fill="#D06E6A"/>
</g><circle cx="50" cy="50" r="48.2" fill="none" stroke="#EF9A3F" stroke-width="3.6"/></svg></div>
<div class="nm" style="left:1345.5px;top:1718.0px;letter-spacing:0.43px">Older Adult</div>
<div class="ag" style="left:1371.1px;top:1741.4px;letter-spacing:0.5px">65+ YEARS</div>
<div class="pill" style="left:1337.2px"></div>
<div class="pt" style="left:1354.1px;top:1762.5px;letter-spacing:0.33px">7 TO 8 HOURS</div>
<div class="lg" style="left:232px;background:#F29447"></div>
<div class="lt" style="left:290.0px;top:1848.6px;letter-spacing:0.01px">RECOMMENDED RANGE</div>
<div class="lg" style="left:557px;background:#FBCB9F"></div>
<div class="lt" style="left:616.1px;top:1848.6px;letter-spacing:0.07px">MAY BE APPROPRIATE FOR SOME</div>
<div class="lg" style="left:978px;background:#255C9C"></div>
<div class="lt" style="left:1035.7px;top:1848.6px;letter-spacing:0.07px">NOT RECOMMENDED RANGE</div>
<div class="ft" style="left:94.0px;top:1960.1px;letter-spacing:1.72px">©2025 NATIONAL SLEEP FOUNDATION. ALL RIGHTS RESERVED.</div>
<div class="url" style="left:1341.2px;top:1965.2px;letter-spacing:0.31px">theNSF.org</div>
</div></body></html>
